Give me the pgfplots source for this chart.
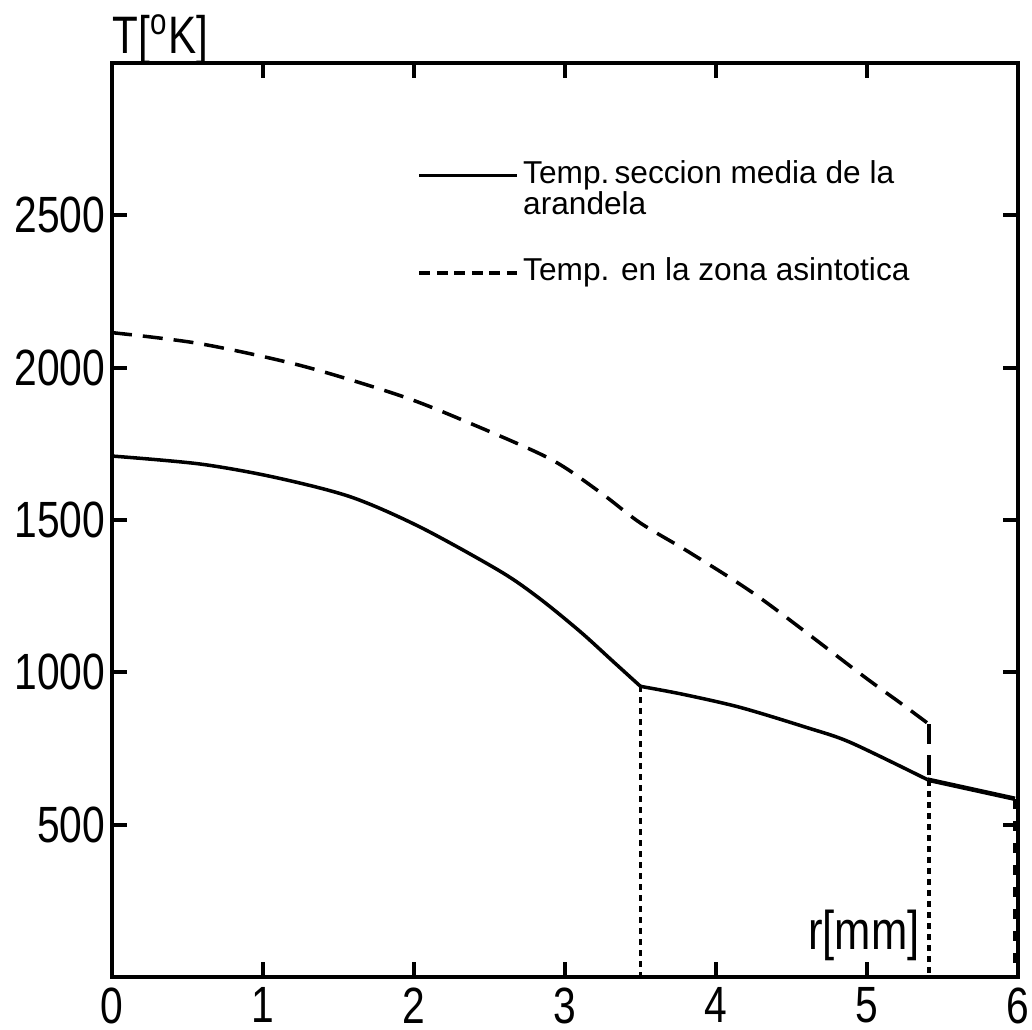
\documentclass[border=0pt]{standalone}
\usepackage{fontspec}
\setmainfont{Liberation Sans}
\newfontfamily\condfont{Liberation Sans}[FakeStretch=0.8]
\usepackage{pgfplots}
\pgfplotsset{compat=1.18}
\begin{document}
\begin{tikzpicture}
\useasboundingbox (-11.2mm,-5.2mm) rectangle (92.0mm,97.7mm);
\begin{axis}[
  at={(0,0)}, anchor=south west,
  width=90.6mm, height=91.4mm, scale only axis,
  xmin=0, xmax=6, ymin=0, ymax=3000,
  xtick={0,1,2,3,4,5,6},
  ytick={500,1000,1500,2000,2500},
  tick align=inside,
  xtick pos=both, ytick pos=both,
  major tick length=1.5mm,
  axis line style={line width=1.2pt},
  every tick/.style={line width=1.1pt, black},
  /pgf/number format/assume math mode=true,
  /pgf/number format/1000 sep={},
  ticklabel style={font=\fontsize{14.5}{16}\condfont},
  yticklabel style={inner sep=0pt, xshift=-0.6mm},
  xticklabel style={inner sep=0pt, yshift=-1mm},
  ylabel={T[\textsuperscript{o}K]},
  ylabel style={rotate=-90, at={(axis description cs:0,1)}, anchor=base west, inner sep=0pt, yshift=1.0mm, font=\fontsize{15}{17}\condfont},
  xlabel={r[mm]},
  xlabel style={at={(axis description cs:0.892,0.03)}, anchor=base east, inner sep=0pt, font=\fontsize{15.5}{17}\condfont},
  legend style={draw=none, fill=none, at={(axis cs:2.02,2705)}, anchor=north west, inner sep=0pt, row sep=5.5mm, font=\fontsize{9}{10}\selectfont, column sep=0mm, nodes={inner xsep=0.4mm}},
  legend cell align=left,
  legend image code/.code={\draw[#1] (0mm,-0.1mm) -- (9.8mm,-0.1mm);},
]
\addplot[black, line width=1pt, smooth, tension=0.5] coordinates {
(0,1710) (0.58,1684) (1.07,1641) (1.58,1576) (2.04,1477) (2.57,1332) (2.83,1243) (3.10,1134) (3.32,1035) (3.5,954)
};
\addlegendentry{\def\arraystretch{0.8}\begin{tabular}[t]{@{}l@{}}Temp.\,seccion media de la\\arandela\end{tabular}}
\addplot[black, line width=1pt, dash pattern=on 2mm off 1.1mm, smooth, tension=0.5, legend image post style={dash pattern=on 1.1mm off 0.65mm}] coordinates {
(0,2115) (0.58,2079) (1.25,2007) (1.91,1908) (2.35,1822) (2.90,1701) (3.23,1592) (3.5,1490) (3.83,1392) (4.29,1245) (4.97,990) (5.22,900) (5.41,830)
};
\addlegendentry{Temp. en la zona asintotica}
\addplot[black, line width=1pt, smooth, tension=0.5, forget plot] coordinates {
(3.5,954) (3.78,928) (4.16,885) (4.60,819) (4.89,770) (5.40,648)
};
\addplot[black, line width=1.3pt, forget plot] coordinates {(5.40,648) (5.98,585)};
\addplot[black, line width=1pt, dash pattern=on 2mm off 1.1mm, forget plot] coordinates {(5.41,830) (5.41,645)};
\addplot[black, line width=0.9pt, dash pattern=on 1mm off 1.2mm, forget plot] coordinates {(5.98,585) (5.98,0)};
\addplot[black, line width=1pt, dash pattern=on 0.6mm off 0.5mm, forget plot] coordinates {(3.5,954) (3.5,0)};
\addplot[black, line width=1pt, dash pattern=on 0.6mm off 0.5mm, forget plot] coordinates {(5.41,645) (5.41,0)};
\end{axis}
\end{tikzpicture}
\end{document}
